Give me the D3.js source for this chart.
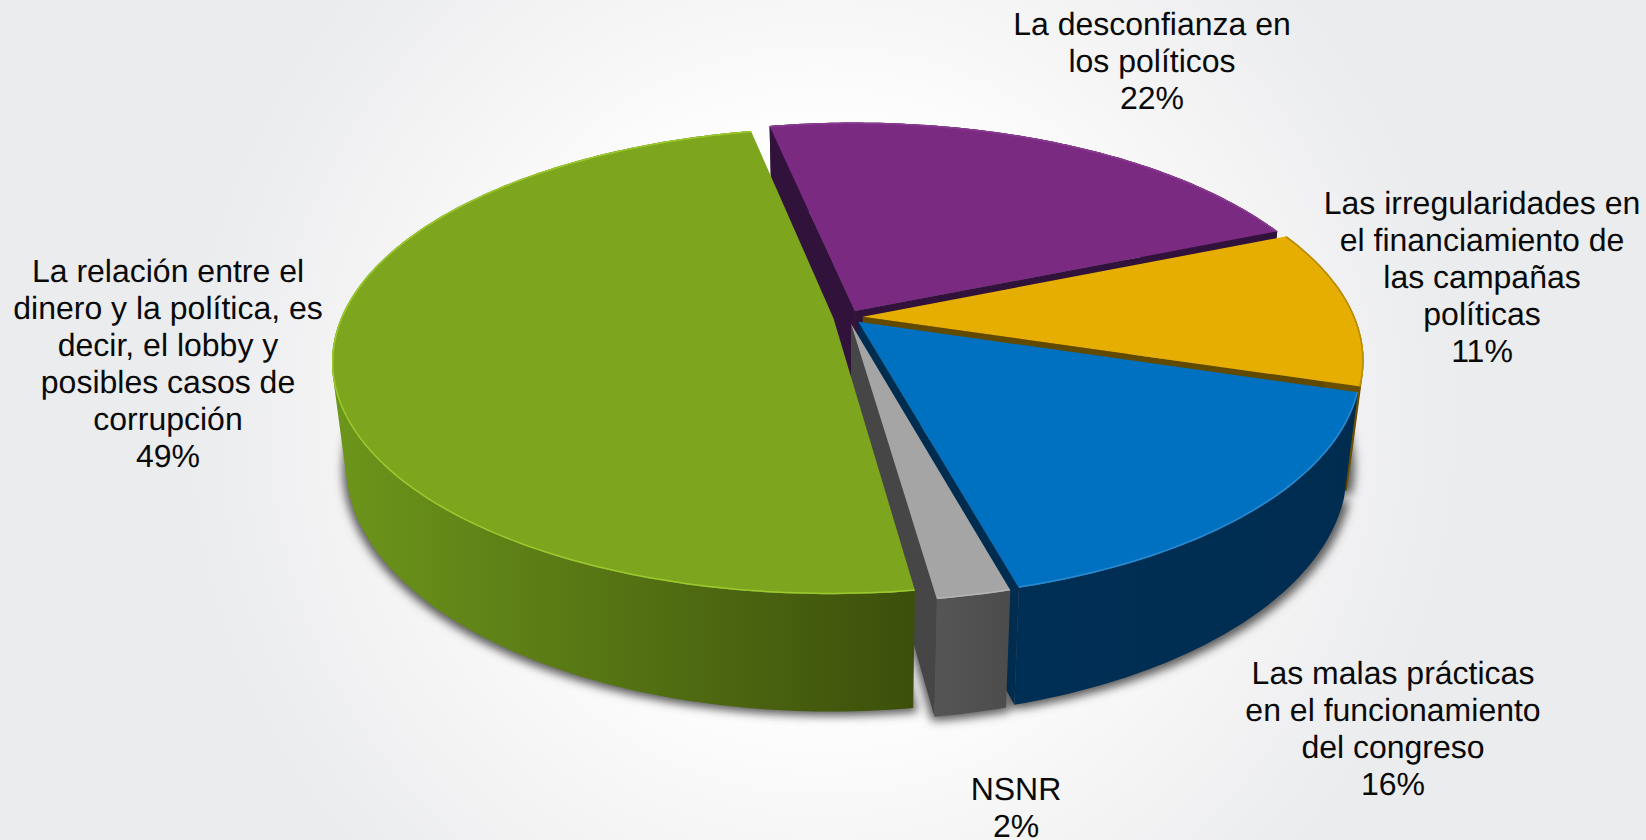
<!DOCTYPE html>
<html><head><meta charset="utf-8">
<script src="https://cdn.jsdelivr.net/npm/d3@7"></script>
<style>html,body{margin:0;padding:0;background:#fff;overflow:hidden}svg{display:block}text{font-family:"Liberation Sans",Arial,sans-serif;fill:#0a0a0a;text-rendering:geometricPrecision}</style>
</head><body><svg id="c" width="1646" height="840"></svg>
<script>
// Data, clockwise from the start angle
const categories = ["purple","gold","blue","gray","green"];
const values = [22, 11, 16, 2, 49];
const labelLines = [
  ["La desconfianza en","los políticos"],
  ["Las irregularidades en","el financiamiento de","las campañas","políticas"],
  ["Las malas prácticas","en el funcionamiento","del congreso"],
  ["NSNR"],
  ["La relación entre el","dinero y la política, es","decir, el lobby y","posibles casos de","corrupción"]
];
const topColors = ["#7b2a82","#e6ae00","#0070c0","#a5a5a5","#7da61e"];
const wallColors = ["#31123a","#614a00","#002c50","#464646","#3f530c"];
const outerFrom = ["#31123a","#6a4f00","#002f55","#555555","#6d961b"];
const outerTo = ["#31123a","#6a4f00","#002c50","#4c4c4c","#3c4f0b"];
const rimColors = ["#8a3a92","#b98c00","#2a8ad0","#b5b5b5","#9cc92c"];

// Layout and projection
const W = 1646, H = 840;
const cx = 848, cy = 317, A = 225, B = 492, k = 0.183, explode = 0.03;
const bottomX = 0.973, bottomYs = 1.063, bottomYo = 80;
const startDeg = -11.7;
const drawOrder = [0,1,2,3,4];
const labelPos = [[1152,35],[1482,214],[1393,684],[1016,800],[168,282]];
const fontSize = 32, pitch = 37;

const svg = d3.select("#c");
const defs = svg.append("defs");
const bg = defs.append("radialGradient").attr("id","bg").attr("gradientUnits","userSpaceOnUse")
  .attr("cx",823).attr("cy",420).attr("r",650);
[[0.4,"#ffffff"],[0.75,"#f3f3f4"],[0.95,"#ecedef"],[1,"#ebecee"]].forEach(([o,c])=>
  bg.append("stop").attr("offset",o).attr("stop-color",c));
const shadowFilter = defs.append("filter").attr("id","sh").attr("x","-10%").attr("y","-10%").attr("width","120%").attr("height","120%");
shadowFilter.append("feGaussianBlur").attr("stdDeviation",5);

svg.append("rect").attr("width",W).attr("height",H).attr("fill","url(#bg)");

const arcs = d3.pie().sort(null)
  .startAngle(startDeg*Math.PI/180)
  .endAngle(startDeg*Math.PI/180+2*Math.PI)(values);

function projectTop(a, r, mid){
  const X = r*Math.sin(a)+explode*Math.sin(mid), Z = r*Math.cos(a)+explode*Math.cos(mid);
  const p = 1+k*Z;
  return [cx+B*X/p, cy-A*Z/p];
}
const projectLow = ([x,y]) => [cx+(x-cx)*bottomX, y*bottomYs+bottomYo];
const pathLine = d3.line();
// d3.polygonArea's sign tells which way a wall faces on screen
const signedArea = pts => d3.polygonArea(pts);

const shadowG = svg.append("g").attr("filter","url(#sh)");
const pieG = svg.append("g");

drawOrder.forEach(i=>{
  const d = arcs[i], mid=(d.startAngle+d.endAngle)/2;
  const n = Math.max(4,Math.ceil((d.endAngle-d.startAngle)*60));
  const rimAngles = d3.range(n+1).map(j=>d.startAngle+(d.endAngle-d.startAngle)*j/n);
  const rim = rimAngles.map(a=>projectTop(a,1,mid));
  const apex = projectTop(0,0,mid);
  const rimLow = rim.map(projectLow);
  const apexLow = projectLow(apex);
  const topPoly = [apex,...rim];
  shadowG.append("path").attr("d",pathLine([apexLow,...rimLow])+"Z").attr("fill","#5a5a5a")
    .attr("transform","translate(-3,4)");
  shadowG.append("path").attr("d",pathLine([apexLow,...rimLow])+"Z").attr("fill","#5a5a5a")
    .attr("transform","translate(5,4)");

  const g = pieG.append("g");
  const wS = [apex,rim[0],rimLow[0],apexLow];
  const wE = [apex,rim[n],rimLow[n],apexLow];
  if(signedArea(wS)>0) g.append("path").attr("d",pathLine(wS)+"Z").attr("fill",wallColors[i]);
  if(signedArea(wE)<0) g.append("path").attr("d",pathLine(wE)+"Z").attr("fill",wallColors[i]);

  const gid="o"+i, xs=rim.map(p=>p[0]);
  const gr=defs.append("linearGradient").attr("id",gid).attr("gradientUnits","userSpaceOnUse")
    .attr("x1",d3.min(xs)).attr("x2",d3.max(xs)).attr("y1",0).attr("y2",0);
  gr.append("stop").attr("offset",0).attr("stop-color",outerFrom[i]);
  gr.append("stop").attr("offset",1).attr("stop-color",outerTo[i]);
  // outer wall as the union of its segment quads, so the silhouette stays filled
  const quads = d3.range(n).map(j=>{
    const q=[rim[j],rim[j+1],rimLow[j+1],rimLow[j]];
    return pathLine(signedArea(q)<0 ? q : q.slice().reverse())+"Z";
  }).join("");
  g.append("path").attr("d",quads).attr("fill",`url(#${gid})`);

  const clipId="t"+i;
  defs.append("clipPath").attr("id",clipId).append("path").attr("d",pathLine(topPoly)+"Z");
  g.append("path").attr("d",pathLine(topPoly)+"Z").attr("fill",topColors[i]);
  g.append("path").attr("d",pathLine(rim)).attr("fill","none").attr("stroke",rimColors[i])
    .attr("stroke-width",3).attr("clip-path",`url(#${clipId})`);
});

const txt = svg.append("g").attr("font-size",fontSize).attr("text-anchor","middle");
labelLines.forEach((ls,i)=>{
  const t = txt.append("text").attr("x",labelPos[i][0]);
  [...ls, values[i]+"%"].forEach((s,j)=>{
    t.append("tspan").attr("x",labelPos[i][0]).attr("y",labelPos[i][1]+j*pitch).text(s);
  });
});
</script></body></html>
